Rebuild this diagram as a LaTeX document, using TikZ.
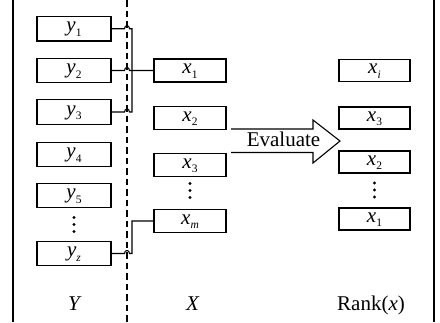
\documentclass[tikz,border=0pt]{standalone}
\usepackage{fontspec}
\setmainfont{Liberation Serif}
\usetikzlibrary{calc}
\newcommand{\lbl}[2]{\textit{#1}\raisebox{-4.5pt}{\fontsize{11.5}{12}\selectfont #2}}
\tikzset{
  box/.style={draw, line width=1.2pt, inner sep=0pt, text height=10pt, text depth=4pt,
    font=\fontsize{21}{24}\selectfont},
  ybox/.style={box, minimum width=74pt, minimum height=24.5pt},
  xbox/.style={box, minimum width=72pt, minimum height=23pt},
  rbox/.style={box, minimum width=71pt, minimum height=22pt},
  txt/.style={inner sep=0pt, font=\fontsize{21}{24}\selectfont},
  conn/.style={line width=1.1pt},
  frame/.style={line width=1.6pt},
  dashline/.style={line width=1.6pt, dash pattern=on 6.5pt off 4pt},
  dotsnode/.style={minimum width=6pt, minimum height=20pt, inner sep=0pt,
    path picture={\foreach \d in {-7,0,7} \fill ([yshift=\d pt]path picture bounding box.center) circle (1.6pt);}},
  arrowshape/.style={line width=1.1pt, line join=miter}
}
\begin{document}
\begin{tikzpicture}[x=1pt,y=-1pt]
\useasboundingbox (0,0) rectangle (440,322);
% frame lines
\draw[frame] (13,0) -- (13,322);
\draw[frame] (434,0) -- (434,322);
\coordinate (dt) at (127,0);
\coordinate (db) at (127,322);
\coordinate (jx) at (132,0);
\draw[dashline] (dt) -- (db);
% Y column
\node[ybox] (y1) at (74,28.7) {\lbl{y}{1}};
\node[ybox] (y2) at (74,70.5) {\lbl{y}{2}};
\node[ybox] (y3) at (74,112) {\lbl{y}{3}};
\node[ybox] (y4) at (74,154.5) {\lbl{y}{4}};
\node[ybox] (y5) at (74,195.5) {\lbl{y}{5}};
\node[dotsnode] (ydots) at (74,224.5) {};
\node[ybox] (yz) at (74,253.5) {\lbl{y}{\textit{z}}};
% X column
\node[xbox] (x1) at (190,70.5) {\lbl{x}{1}};
\node[xbox] (x2) at (190,118) {\lbl{x}{2}};
\node[xbox] (x3) at (190,165) {\lbl{x}{3}};
\node[dotsnode] (xdots) at (190,190.5) {};
\node[xbox] (xm) at (190,221) {\lbl{x}{\textit{m}}};
% Rank column
\node[rbox] (ri) at (374.5,70.5) {\lbl{x}{\textit{i}}};
\node[rbox] (r3) at (374.5,118) {\lbl{x}{3}};
\node[rbox] (r2) at (374.5,162) {\lbl{x}{2}};
\node[dotsnode] (rdots) at (374.5,190) {};
\node[rbox] (r1) at (374.5,219) {\lbl{x}{1}};
% connectors with hops over the dashed line
\draw[conn] (y1.east) -- ($(y1.east -| dt)+(-2.5,0)$) .. controls +(0,-4) and +(0,-4) .. ($(y1.east -| dt)+(2.5,0)$)
  -- (y1.east -| jx) -- (y3.east -| jx) -- ($(y3.east -| dt)+(2.5,0)$) .. controls +(0,-4) and +(0,-4) .. ($(y3.east -| dt)+(-2.5,0)$) -- (y3.east);
\draw[conn] (y2.east) -- ($(y2.east -| dt)+(-2.5,0)$) .. controls +(0,-4) and +(0,-4) .. ($(y2.east -| dt)+(2.5,0)$) -- (x1.west);
\draw[conn] (yz.east) -- ($(yz.east -| dt)+(-2.5,0)$) .. controls +(0,-4) and +(0,-4) .. ($(yz.east -| dt)+(2.5,0)$)
  -- (yz.east -| jx) -- (xm.west -| jx) -- (xm.west);
% Evaluate arrow
\draw[arrowshape] (231,129) -- (313,129) -- (313,120) -- (340,141) -- (313,163) -- (313,152.5) -- (231,152.5);
\node[txt, anchor=base] (ev) at (283.5,146.7) {Evaluate};
% bottom labels
\node[txt, anchor=base] (lY) at (75,310) {\textit{Y}};
\node[txt, anchor=base] (lX) at (193,310) {\textit{X}};
\node[txt, anchor=base] (lR) at (371,310) {Rank(\textit{x})};
\end{tikzpicture}
\end{document}
